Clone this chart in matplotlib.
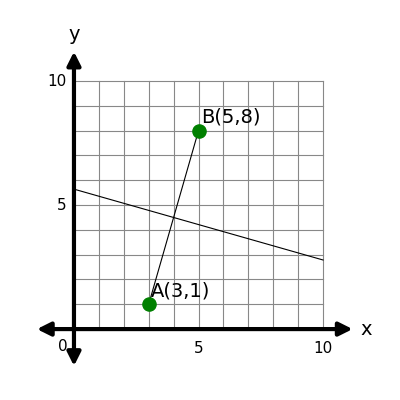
import matplotlib.pyplot as plt
import numpy as np

pts_x = [3, 5]
pts_y = [1, 8]
pt_labels = ["A(3,1)", "B(5,8)"]
line_x = [0, 10]
line_y = [4.5 + 8 / 7, 4.5 - 12 / 7]
ticks = [5, 10]

fig = plt.figure(figsize=(4, 4), dpi=100)
ax = fig.add_axes([0, 0, 1, 1])
ax.set_xlim(-2.97, 13.09)
ax.set_ylim(-2.86, 13.27)
ax.axis('off')

for g in np.arange(0, 10.5, 1):
    ax.plot([g, g], [0, 10], color='#888888', lw=0.8, zorder=1)
    ax.plot([0, 10], [g, g], color='#888888', lw=0.8, zorder=1)

akw = dict(arrowstyle='<|-|>,head_length=0.8,head_width=0.4', color='black', lw=3)
ax.annotate('', xy=(-1.6, 0), xytext=(11.3, 0), arrowprops=akw, zorder=3)
ax.annotate('', xy=(0, -1.6), xytext=(0, 11.3), arrowprops=akw, zorder=3)
ax.text(11.5, 0, 'x', fontsize=14, va='center', ha='left')
ax.text(0, 11.5, 'y', fontsize=14, va='bottom', ha='center')

ax.text(-0.45, -0.7, '0', fontsize=11, ha='center', va='center')
for t in ticks:
    ax.text(t, -0.8, str(t), fontsize=11, ha='center', va='center')
    ax.text(-0.3, t, str(t), fontsize=11, ha='right', va='center')

ax.plot(line_x, line_y, color='black', lw=0.8, zorder=2)
ax.plot(pts_x, pts_y, color='black', lw=0.8, zorder=2)
ax.scatter(pts_x, pts_y, s=90, color='green', zorder=4)
for x, y, s in zip(pts_x, pts_y, pt_labels):
    ax.text(x + 0.1, y + 0.15, s, fontsize=14, ha='left', va='bottom')

fig.savefig('out.png')
